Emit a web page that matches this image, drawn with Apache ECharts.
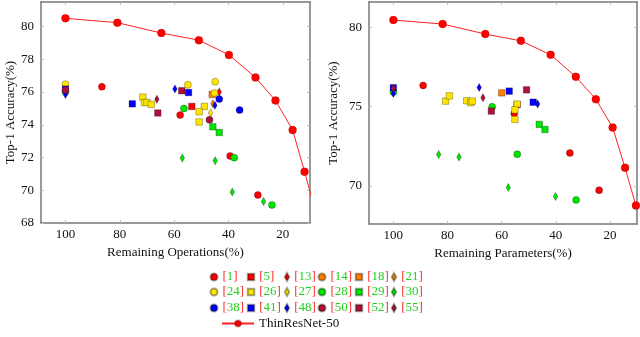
<!DOCTYPE html>
<html>
<head>
<meta charset="utf-8">
<script src="https://cdn.jsdelivr.net/npm/echarts@6/dist/echarts.min.js"></script>
<style>
  html, body { margin: 0; padding: 0; background: #fff; }
  #main { width: 640px; height: 337px; }
</style>
</head>
<body>
<div id="main"></div>
<script>
// tick labels
var xTicks = [20, 40, 60, 80, 100];
var yTicksOps = [68, 70, 72, 74, 76, 78, 80];
var yTicksPar = [70, 75, 80];

// ThinResNet-50 curve: [remaining %, top-1]
var thin_ops = [[100,80.5],[80.9,80.24],[64.7,79.6],[50.9,79.17],[39.85,78.27],[30.06,76.89],[22.7,75.48],[16.4,73.68],[12.0,71.13],[8.5,69.0]];
var thin_par = [[100,80.46],[81.8,80.21],[66.05,79.58],[52.9,79.15],[41.9,78.27],[32.6,76.88],[25.2,75.47],[19.0,73.69],[14.4,71.14],[10.4,68.76]];

// compared methods, operations chart / parameters chart
var m1_ops = [[86.6,76.32],[57.8,74.59],[39.4,72.09],[29.2,69.71]];
var m1_par = [[89.0,76.34],[55.35,74.57],[34.8,72.08],[24.0,69.73]];
var m5_ops = [[53.5,75.12]];
var m5_par = [[54.3,75.12]];
var m13_ops = [[43.4,76.0]];
var m13_par = [];
var m14_ops = [];
var m14_par = [];
var m18_ops = [[46.0,75.85]];
var m18_par = [[60.0,75.87]];
var m21_ops = [[45.75,75.28]];
var m21_par = [];
var m24_ops = [[100,76.48],[54.95,76.44],[44.9,76.63],[45.15,75.94]];
var m24_par = [];
var m26_ops = [[71.5,75.69],[70.9,75.36],[70.0,75.36],[68.4,75.25],[48.9,75.12],[50.8,74.8],[50.8,74.17]];
var m26_par = [[80.7,75.35],[79.3,75.68],[72.9,75.37],[71.4,75.25],[70.85,75.35],[54.25,75.16],[55.1,74.8],[55.1,74.19]];
var m27_ops = [[46.6,74.72]];
var m27_par = [];
var m28_ops = [[100,76.0],[56.4,75.0],[37.9,71.99],[24.0,69.1]];
var m28_par = [[100,75.92],[63.5,74.99],[54.25,72.0],[32.5,69.12]];
var m29_ops = [[45.75,73.88],[43.4,73.53]];
var m29_par = [[46.1,73.88],[44.0,73.56]];
var m30_ops = [[57.0,71.97],[44.9,71.8],[38.6,69.9],[27.1,69.32]];
var m30_par = [[83.25,71.98],[75.75,71.83],[57.55,69.9],[40.1,69.33]];
var m38_ops = [[43.4,75.57],[35.9,74.9]];
var m38_par = [];
var m41_ops = [[100,76.18],[75.4,75.28],[54.7,75.97]];
var m41_par = [[100,76.19],[57.2,75.98],[48.35,75.28]];
var m48_ops = [[100,75.85],[59.7,76.18],[45.0,75.2]];
var m48_par = [[100,75.83],[68.3,76.21],[46.7,75.16]];
var m50_ops = [[100,76.12],[47.0,74.3]];
var m50_par = [];
var m52_ops = [[66.0,74.72],[57.2,76.08]];
var m52_par = [[63.8,74.72],[50.8,76.06]];
var m55_ops = [[66.35,75.56]];
var m55_par = [[100,76.15],[66.9,75.56]];

var methods = [
  ['1', 'circle', '#ff0000', m1_ops, m1_par],
  ['5', 'rect', '#ff0000', m5_ops, m5_par],
  ['13', 'diamond', '#ff0000', m13_ops, m13_par],
  ['14', 'circle', '#ff8000', m14_ops, m14_par],
  ['18', 'rect', '#ff8000', m18_ops, m18_par],
  ['21', 'diamond', '#ff8000', m21_ops, m21_par],
  ['24', 'circle', '#ffe600', m24_ops, m24_par],
  ['26', 'rect', '#ffe600', m26_ops, m26_par],
  ['27', 'diamond', '#ffe600', m27_ops, m27_par],
  ['28', 'circle', '#00e600', m28_ops, m28_par],
  ['29', 'rect', '#00e600', m29_ops, m29_par],
  ['30', 'diamond', '#00e600', m30_ops, m30_par],
  ['38', 'circle', '#0000ff', m38_ops, m38_par],
  ['41', 'rect', '#0000ff', m41_ops, m41_par],
  ['48', 'diamond', '#0000ff', m48_ops, m48_par],
  ['50', 'circle', '#b0103a', m50_ops, m50_par],
  ['52', 'rect', '#b0103a', m52_ops, m52_par],
  ['55', 'diamond', '#b0103a', m55_ops, m55_par]
];

var serif = 'Liberation Serif';
var frame = '#777';

function symSize(sym){
  if(sym == 'diamond') return [4.5, 8];
  if(sym == 'rect') return 6.5;
  return 7;
}

function xAx(grid, pos, name){
  return {
    gridIndex: grid, type: 'value', position: pos, min: 10, max: 109, inverse: true,
    name: name, nameLocation: 'middle', nameGap: 17,
    nameTextStyle: {fontFamily: serif, fontSize: 13, color: '#111'},
    axisLine: {show: true, onZero: false, lineStyle: {color: frame, width: 1.5}},
    axisTick: {show: true, inside: true, length: 3, customValues: xTicks, lineStyle: {color: '#bbb'}},
    axisLabel: {show: pos == 'bottom', margin: 5, customValues: xTicks, fontFamily: serif, fontSize: 13, color: '#111'},
    splitLine: {show: false}
  };
}

function yAx(grid, pos, min, max, ticks, name, gap){
  return {
    gridIndex: grid, type: 'value', position: pos, min: min, max: max,
    name: name, nameLocation: 'middle', nameGap: gap,
    nameTextStyle: {fontFamily: serif, fontSize: 13, color: '#111'},
    axisLine: {show: true, onZero: false, lineStyle: {color: frame, width: 1.5}},
    axisTick: {show: true, inside: true, length: 3, customValues: ticks, lineStyle: {color: '#bbb'}},
    axisLabel: {show: pos == 'left', margin: 7, customValues: ticks, fontFamily: serif, fontSize: 13, color: '#111'},
    splitLine: {show: false}
  };
}

var series = [];
methods.forEach(function(m){
  [0, 1].forEach(function(g){
    series.push({
      name: m[0], type: 'scatter', xAxisIndex: g, yAxisIndex: g,
      data: g == 0 ? m[3] : m[4],
      symbol: m[1], symbolSize: symSize(m[1]),
      itemStyle: {color: m[2], borderColor: 'rgba(0,0,0,0.35)', borderWidth: 0.8, opacity: 1}
    });
  });
});
[0, 1].forEach(function(g){
  series.push({
    name: 'ThinResNet-50', type: 'line', xAxisIndex: g, yAxisIndex: g,
    data: g == 0 ? thin_ops : thin_par, clip: true, z: 5,
    symbol: 'circle', symbolSize: 8, showSymbol: true,
    lineStyle: {color: '#ff2020', width: 1},
    itemStyle: {color: '#ff0000', borderColor: 'rgba(0,0,0,0.2)', borderWidth: 0.6}
  });
});

// legend grid: 6 columns x 3 rows
var colX = [213, 250, 286, 321, 358, 393];
var rowY = [277, 292, 308];
var legends = [];
methods.forEach(function(m, i){
  var s = symSize(m[1]);
  var w = Array.isArray(s) ? s[0] : s, h = Array.isArray(s) ? s[1] : s;
  legends.push({
    left: colX[i % 6] - w / 2, top: rowY[Math.floor(i / 6)] - 8, padding: 0,
    itemWidth: w, itemHeight: h, itemGap: 0, selectedMode: false,
    data: [m[0]],
    formatter: function(n){ return '{b|[}{n|' + n + '}{b|]}'; },
    textStyle: {fontFamily: serif, fontSize: 13, lineHeight: 16,
      rich: {b: {color: '#ff2a2a', fontFamily: serif, fontSize: 13}, n: {color: '#22d022', fontFamily: serif, fontSize: 13}}}
  });
});
legends.push({
  left: 221, top: 317, padding: 0, itemWidth: 32, itemHeight: 8, selectedMode: false,
  data: ['ThinResNet-50'],
  textStyle: {fontFamily: serif, fontSize: 13, color: '#111'}
});

var option = {
  animation: false,
  backgroundColor: '#fff',
  grid: [
    {left: 41, right: 330, top: 2, bottom: 114},
    {left: 369, right: 3, top: 2, bottom: 113}
  ],
  xAxis: [
    xAx(0, 'bottom', 'Remaining Operations(%)'),
    xAx(1, 'bottom', 'Remaining Parameters(%)'),
    xAx(0, 'top', ''),
    xAx(1, 'top', '')
  ],
  yAxis: [
    yAx(0, 'left', 68, 81.5, yTicksOps, 'Top-1 Accuracy(%)', 20),
    yAx(1, 'left', 67.6, 81.6, yTicksPar, 'Top-1 Accuracy(%)', 29),
    yAx(0, 'right', 68, 81.5, yTicksOps, '', 0),
    yAx(1, 'right', 67.6, 81.6, yTicksPar, '', 0)
  ],
  legend: legends,
  series: series
};

var chart = echarts.init(document.getElementById('main'));
chart.setOption(option);
</script>
</body>
</html>
